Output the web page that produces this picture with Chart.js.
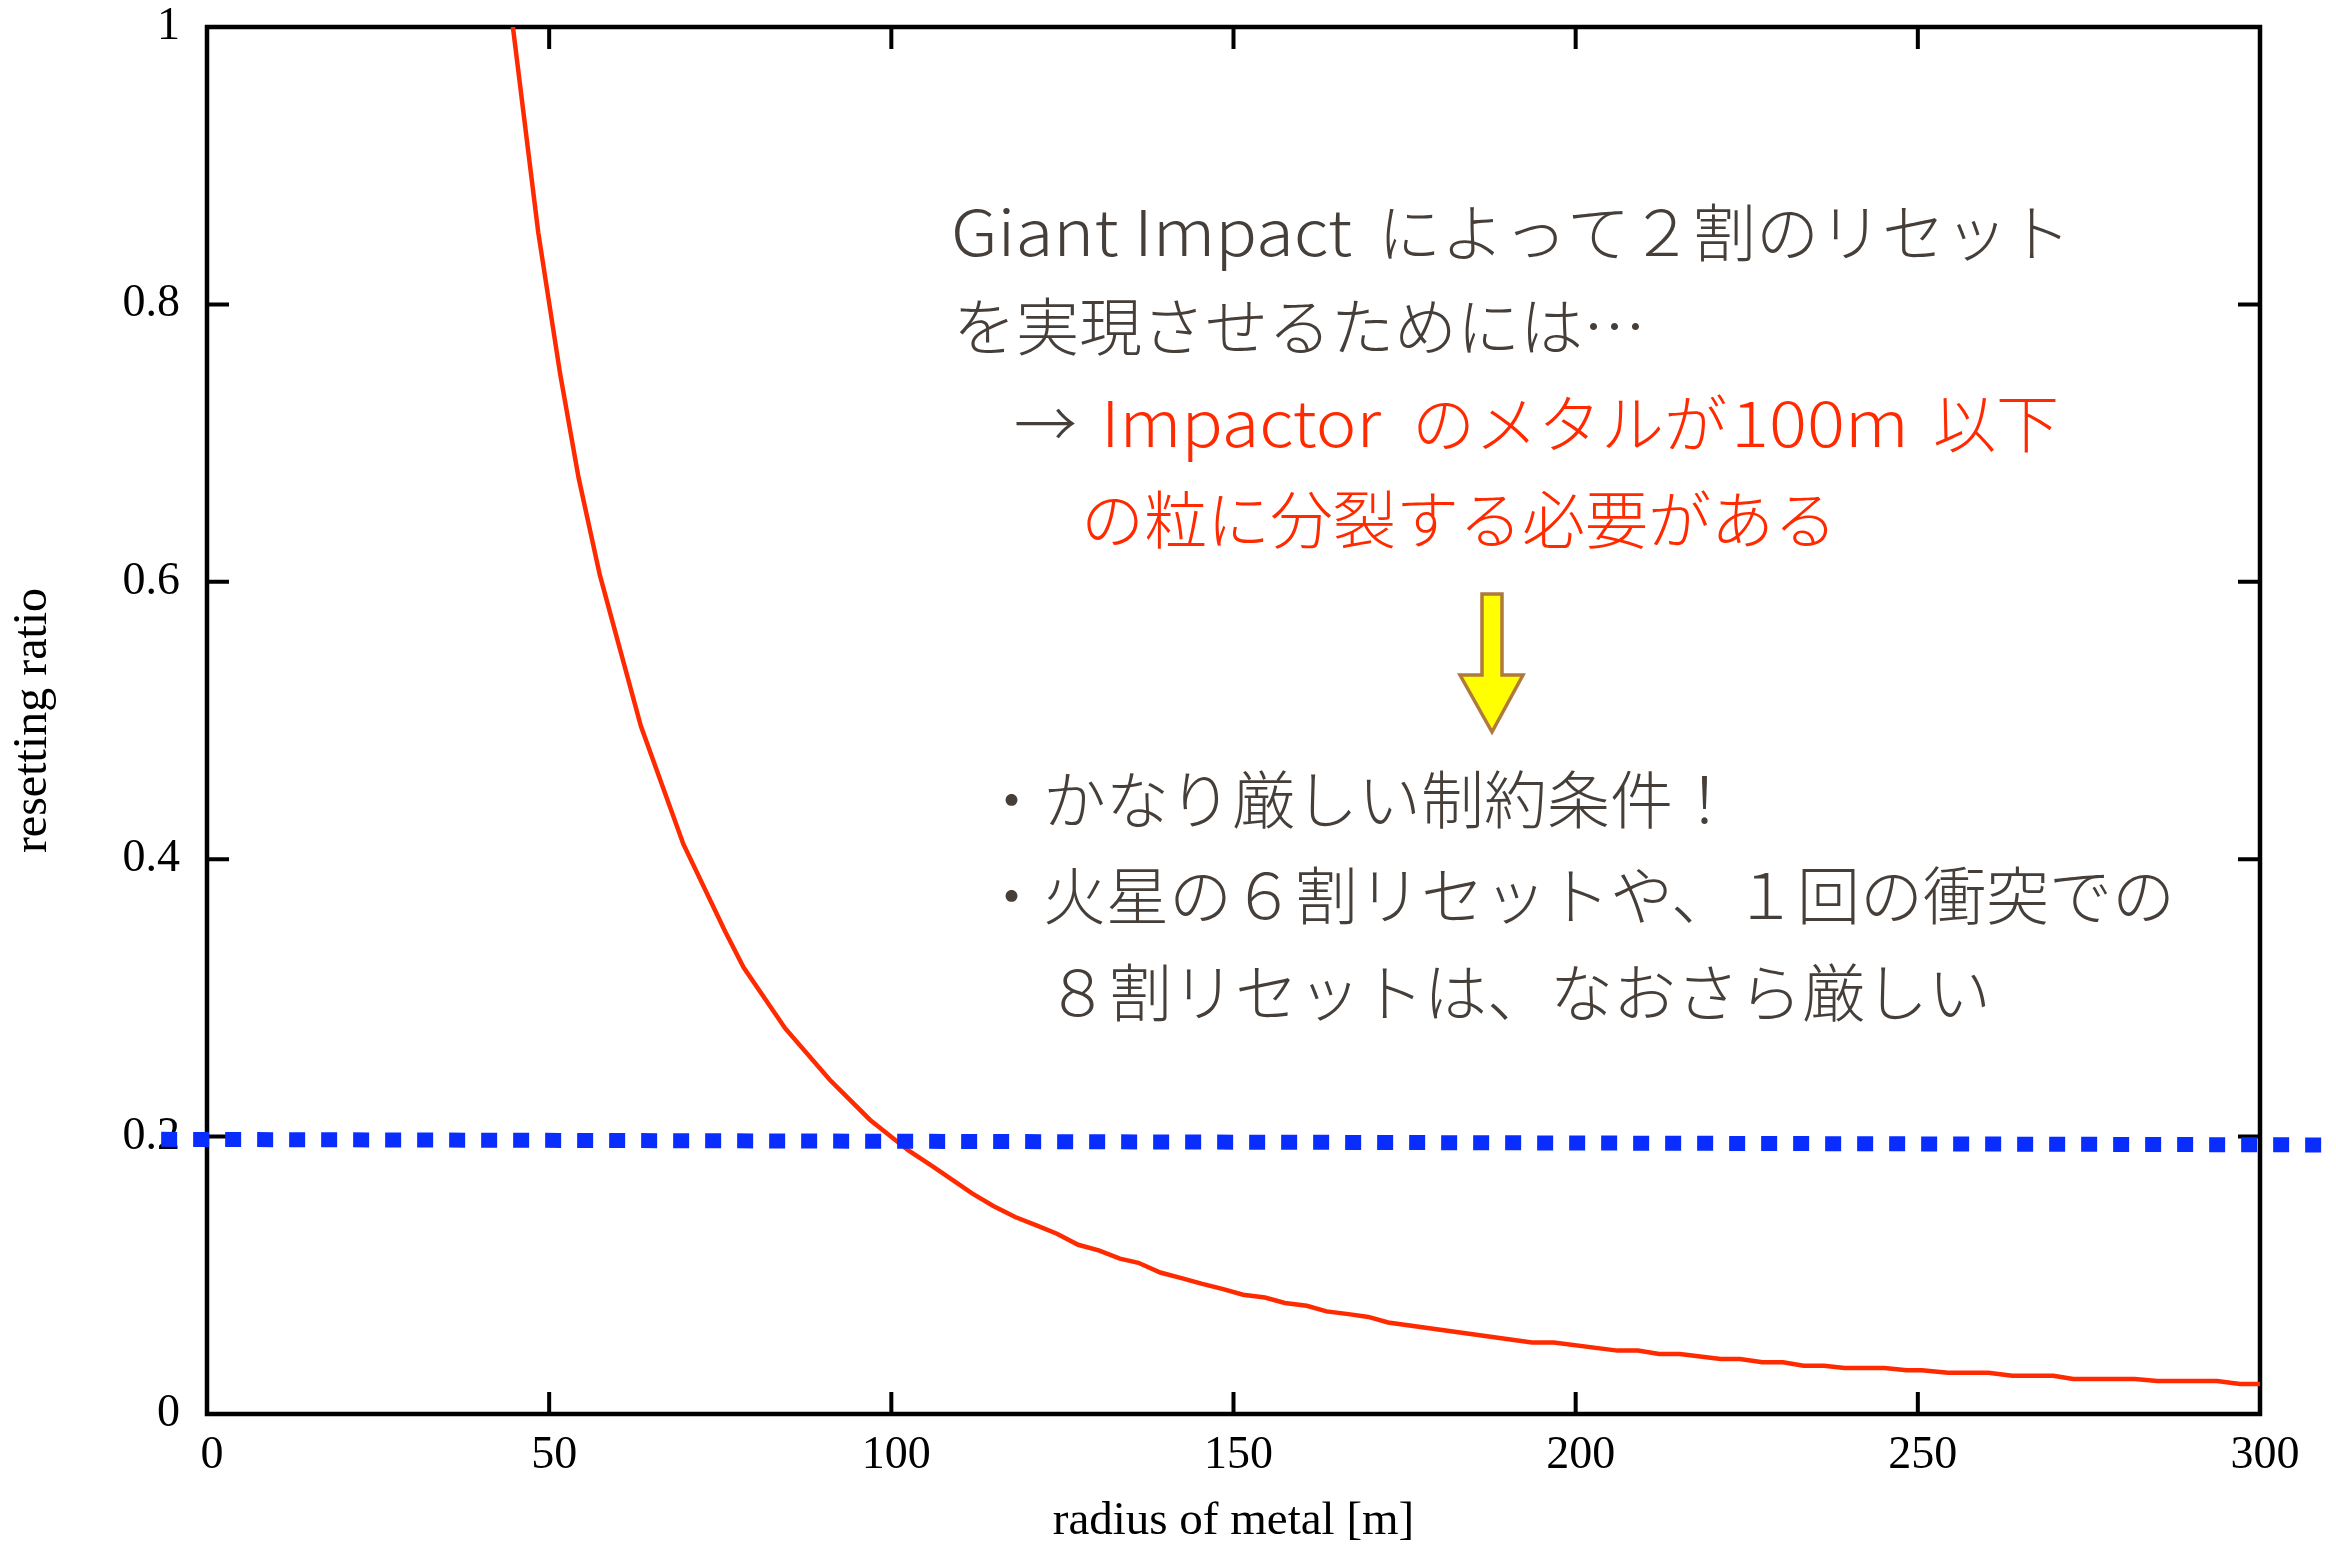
<!DOCTYPE html>
<html>
<head>
<meta charset="utf-8">
<script src="https://cdn.jsdelivr.net/npm/chart.js@4/dist/chart.umd.min.js"></script>
<style>
  html, body { margin: 0; padding: 0; background: #ffffff; }
  #wrap { width: 2336px; height: 1545px; }
</style>
</head>
<body>
<div id="wrap"><canvas id="c" width="2336" height="1545"></canvas></div>
<script>
// ---- data ----
const radius = [44.7, 48.4, 51.6, 54.3, 57.4, 63.4, 69.6, 75.7, 78.4, 84.5, 91.0, 96.9,
  102.5, 106.2, 111.8, 114.9, 118.1, 121.2, 124.2, 127.3, 130.3, 133.4, 136.1, 139.3,
  142.4, 145.3, 148.5, 151.4, 154.6, 157.5, 160.7, 163.6, 166.8, 169.7, 172.6, 193.6,
  196.8, 206.1, 209.1, 212.2, 215.2, 221.2, 224.0, 227.3, 230.3, 233.3, 236.3, 239.3,
  245.1, 248.4, 250.6, 254.4, 260.3, 263.8, 269.8, 272.7, 281.7, 285.0, 293.7, 297.1, 300.0];
const resettingRatio = [1.000, 0.852, 0.750, 0.675, 0.605, 0.496, 0.411, 0.348, 0.322, 0.278, 0.241, 0.212,
  0.190, 0.178, 0.159, 0.150, 0.142, 0.136, 0.130, 0.122, 0.118, 0.112, 0.109, 0.102,
  0.098, 0.094, 0.090, 0.086, 0.084, 0.080, 0.078, 0.074, 0.072, 0.070, 0.066, 0.0515,
  0.0515, 0.0457, 0.0457, 0.0433, 0.0433, 0.0397, 0.0397, 0.0373, 0.0373, 0.0348, 0.0348, 0.0332,
  0.0332, 0.0316, 0.0316, 0.0298, 0.0298, 0.0276, 0.0276, 0.0252, 0.0252, 0.0238, 0.0238, 0.0216, 0.0216];
const thresholdRadius = [-6.7, 309];
const thresholdRatio = [0.198, 0.194];
const xTickLabels = ['0', '50', '100', '150', '200', '250', '300'];
const yTickLabels = ['0', '0.2', '0.4', '0.6', '0.8', '1'];
const xTitle = 'radius of metal [m]';
const yTitle = 'resetting ratio';

const noteLine1a = 'Giant Impact';
const noteLine1b = 'によって２割のリセット';
const noteLine2 = 'を実現させるためには…';
const noteArrow = '→';
const noteLine3a = 'Impactor';
const noteLine3b = 'のメタルが';
const noteLine3c = '100m';
const noteLine3d = '以下';
const noteLine4 = 'の粒に分裂する必要がある';
const noteLine5 = '・かなり厳しい制約条件！';
const noteLine6 = '・火星の６割リセットや、１回の衝突での';
const noteLine7 = '８割リセットは、なおさら厳しい';

// ---- build datasets ----
const curvePoints = radius.map((r, i) => ({ x: r, y: resettingRatio[i] }));
const thresholdPoints = thresholdRadius.map((r, i) => ({ x: r, y: thresholdRatio[i] }));

const SERIF = '"Liberation Serif", "Times New Roman", serif';
const JP = '"Noto Sans CJK JP", "Noto Sans", sans-serif';

const framePlugin = {
  id: 'frame',
  beforeDatasetsDraw(chart) {
    const { ctx, chartArea: a, scales: { x, y } } = chart;
    ctx.save();
    ctx.strokeStyle = '#000';
    ctx.lineWidth = 4.5;
    ctx.lineJoin = 'miter';
    ctx.strokeRect(a.left, a.top, a.right - a.left, a.bottom - a.top);
    ctx.lineWidth = 4;
    const L = 22;
    ctx.beginPath();
    x.ticks.forEach(t => {
      const px = x.getPixelForValue(t.value);
      ctx.moveTo(px, a.bottom); ctx.lineTo(px, a.bottom - L);
      ctx.moveTo(px, a.top); ctx.lineTo(px, a.top + L);
    });
    y.ticks.forEach(t => {
      const py = y.getPixelForValue(t.value);
      ctx.moveTo(a.left, py); ctx.lineTo(a.left + L, py);
      ctx.moveTo(a.right, py); ctx.lineTo(a.right - L, py);
    });
    ctx.stroke();
    ctx.restore();
  }
};

function seg(ctx, text, x, y, w, color) {
  ctx.fillStyle = color;
  ctx.save();
  ctx.translate(x, y);
  if (w) {
    const m = ctx.measureText(text).width;
    ctx.scale(w / m, 1);
  }
  ctx.fillText(text, 0, 0);
  ctx.restore();
}

const notePlugin = {
  id: 'notes',
  afterDraw(chart) {
    const ctx = chart.ctx;
    ctx.save();
    ctx.font = '300 63px ' + JP;
    ctx.textBaseline = 'alphabetic';
    ctx.textAlign = 'left';
    const dark = '#463e38';
    const red = '#ff2a00';
    seg(ctx, noteLine1a, 951, 256, 401, dark);
    seg(ctx, noteLine1b, 1378, 256, 0, dark);
    seg(ctx, noteLine2, 953, 350, 0, dark);
    seg(ctx, noteArrow, 1014, 447, 0, dark);
    seg(ctx, noteLine3a, 1101, 447, 280, red);
    seg(ctx, noteLine3b, 1412, 447, 0, red);
    seg(ctx, noteLine3c, 1731, 447, 178, red);
    seg(ctx, noteLine3d, 1933, 447, 0, red);
    seg(ctx, noteLine4, 1081, 543, 0, red);
    seg(ctx, noteLine5, 980, 823, 0, dark);
    seg(ctx, noteLine6, 980, 919, 0, dark);
    seg(ctx, noteLine7, 1046, 1016, 0, dark);

    // yellow down arrow
    ctx.beginPath();
    ctx.moveTo(1482, 594);
    ctx.lineTo(1502, 594);
    ctx.lineTo(1502, 675);
    ctx.lineTo(1523, 675);
    ctx.lineTo(1492, 732);
    ctx.lineTo(1460, 675);
    ctx.lineTo(1482, 675);
    ctx.closePath();
    ctx.fillStyle = '#ffff00';
    ctx.fill();
    ctx.lineWidth = 3.5;
    ctx.strokeStyle = '#b07a3c';
    ctx.lineJoin = 'miter';
    ctx.stroke();
    ctx.restore();
  }
};

new Chart(document.getElementById('c'), {
  type: 'scatter',
  data: {
    datasets: [
      {
        label: 'threshold',
        data: thresholdPoints,
        showLine: true,
        borderColor: '#0a2dff',
        borderWidth: 15,
        borderDash: [16, 16],
        borderCapStyle: 'butt',
        pointRadius: 0,
        clip: false,
        order: 0
      },
      {
        label: 'resetting ratio',
        data: curvePoints,
        showLine: true,
        borderColor: '#ff2a00',
        borderWidth: 4.5,
        pointRadius: 0,
        tension: 0,
        order: 1
      }
    ]
  },
  options: {
    responsive: false,
    animation: false,
    devicePixelRatio: 1,
    layout: { padding: { top: 27, right: 76, left: 0, bottom: 0 } },
    plugins: { legend: { display: false }, tooltip: { enabled: false } },
    scales: {
      x: {
        type: 'linear',
        min: 0, max: 300,
        grid: { display: false, drawTicks: false },
        border: { display: false },
        ticks: {
          stepSize: 50,
          padding: 14,
          labelOffset: 5,
          color: '#000',
          font: { family: SERIF, size: 46, lineHeight: 1.2 },
          callback: (v, i) => xTickLabels[i]
        },
        title: {
          display: true, text: xTitle, color: '#000',
          font: { family: SERIF, size: 47, lineHeight: 1.0 },
          padding: { top: -3, bottom: 0 }
        },
        afterFit: s => { s.height = 131; s.paddingLeft = 0; s.paddingRight = 0; }
      },
      y: {
        type: 'linear',
        min: 0, max: 1,
        grid: { display: false, drawTicks: false },
        border: { display: false },
        ticks: {
          stepSize: 0.2,
          padding: 27,
          color: '#000',
          font: { family: SERIF, size: 46, lineHeight: 1.0 },
          callback: (v, i) => yTickLabels[i]
        },
        title: {
          display: true, text: yTitle, color: '#000',
          font: { family: SERIF, size: 48, lineHeight: 1.0 },
          padding: { top: 9, bottom: 0 }
        },
        afterFit: s => { s.width = 207; s.paddingTop = 0; s.paddingBottom = 0; }
      }
    }
  },
  plugins: [framePlugin, notePlugin]
});
</script>
</body>
</html>
